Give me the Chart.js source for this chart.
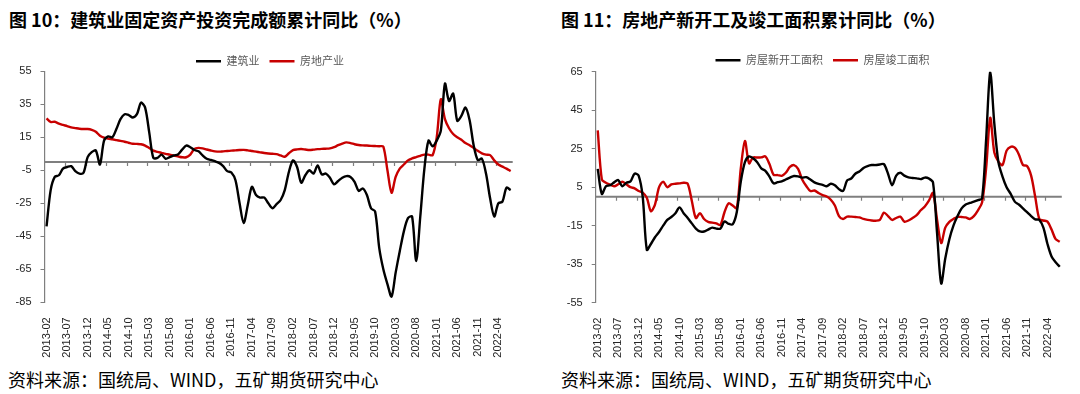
<!DOCTYPE html>
<html>
<head>
<meta charset="utf-8">
<script src="https://cdn.jsdelivr.net/npm/chart.js@4.4.0/dist/chart.umd.min.js"></script>
<style>
  body { margin: 0; background: #fff; width: 1080px; height: 394px; overflow: hidden; position: relative;
         font-family: "Noto Sans CJK SC", sans-serif; }
  .title { position: absolute; top: 9px; font-size: 18px; font-weight: bold; line-height: 20px; color: #000; white-space: nowrap; }
  .source { position: absolute; top: 369px; font-size: 18px; line-height: 20px; color: #000; white-space: nowrap; }
  canvas { position: absolute; }
</style>
</head>
<body>
<div class="title" style="left:9px">图 10：建筑业固定资产投资完成额累计同比（%）</div>
<div class="title" style="left:561px">图 11：房地产新开工及竣工面积累计同比（%）</div>
<canvas id="chartInvest" width="540" height="318" style="left:0;top:40px"></canvas>
<canvas id="chartArea" width="540" height="318" style="left:540px;top:40px"></canvas>
<div class="source" style="left:8px">资料来源：国统局、WIND，五矿期货研究中心</div>
<div class="source" style="left:561px">资料来源：国统局、WIND，五矿期货研究中心</div>
<script>
// months, 2013-02 .. 2022-07
const months = [
  "2013-02","2013-03","2013-04","2013-05","2013-06","2013-07","2013-08","2013-09","2013-10","2013-11","2013-12",
  "2014-01","2014-02","2014-03","2014-04","2014-05","2014-06","2014-07","2014-08","2014-09","2014-10","2014-11","2014-12",
  "2015-01","2015-02","2015-03","2015-04","2015-05","2015-06","2015-07","2015-08","2015-09","2015-10","2015-11","2015-12",
  "2016-01","2016-02","2016-03","2016-04","2016-05","2016-06","2016-07","2016-08","2016-09","2016-10","2016-11","2016-12",
  "2017-01","2017-02","2017-03","2017-04","2017-05","2017-06","2017-07","2017-08","2017-09","2017-10","2017-11","2017-12",
  "2018-01","2018-02","2018-03","2018-04","2018-05","2018-06","2018-07","2018-08","2018-09","2018-10","2018-11","2018-12",
  "2019-01","2019-02","2019-03","2019-04","2019-05","2019-06","2019-07","2019-08","2019-09","2019-10","2019-11","2019-12",
  "2020-01","2020-02","2020-03","2020-04","2020-05","2020-06","2020-07","2020-08","2020-09","2020-10","2020-11","2020-12",
  "2021-01","2021-02","2021-03","2021-04","2021-05","2021-06","2021-07","2021-08","2021-09","2021-10","2021-11","2021-12",
  "2022-01","2022-02","2022-03","2022-04","2022-05","2022-06","2022-07"
];

// 图10
const construction = [
  -39,-17,-9,-8,-4,-3,-2.5,-5.5,-7,-6.5,
  3,6,7,-1.5,13,15.5,15,20,26,29,
  28.5,27,29,36,33,18,2.5,2.5,4.5,2,
  3,4,4.6,7.5,10,9,7.3,6.5,4,2,
  1.3,0.5,-0.5,-2.5,-5.5,-6.3,-11,-25,-37,-26,
  -15,-20,-21.5,-21.5,-25,-28,-25.5,-23,-17,-6,
  1,-3,-12.5,-8,-5,-7,-2,-7.5,-7,-9.5,
  -13.5,-11.5,-9.5,-8.5,-9,-12,-17.5,-16,-20,-28,
  -30,-52,-65,-74,-81.5,-67,-54,-42,-34,-33,
  -60,-33,-4,13,9.5,13,19,47.5,37,41.5,
  25,28,33,25.5,10,1.2,2,-7,-22,-33,
  -25,-24,-15.5,-17
];
const realEstate = [
  26.5,24.3,24.4,23.3,22.5,21.8,21,20.6,20.2,20,
  20,19.5,18.3,16,14.8,14.2,13.8,13.3,12.8,12.3,
  11.7,11.1,11,10.8,10,8.5,6.9,6.2,5.6,5,
  4.5,3.9,3.4,2.9,2.9,4.5,8,8.6,8.3,7.6,
  7,6.5,6.3,6.5,6.7,6.9,7.1,7.3,7.4,7.1,
  6.7,6.3,5.9,5.5,5.2,5,4.8,4,3.2,5.3,
  7.2,7.7,7.9,7.6,7.3,7.5,7.8,8,8.1,8.3,
  9,10.2,11.2,11.9,11.5,10.8,10.3,10.1,10,9.8,
  9.7,9.6,9.3,-5,-18.6,-9,-4,-1.5,1,2.2,
  3,3.8,4.5,4.5,4.2,15,38,26,20.5,17,
  15,13.5,11.5,10.2,8.5,6.8,5.3,4.5,4.2,1,
  -1.5,-2.8,-4,-5.5
];

// 图11
const newStarts = [
  14.5,1.5,5.5,6,7.5,8.7,5.5,7.3,8,12,
  11,0,-27.5,-24.5,-21,-18.3,-15,-12,-10.5,-8.5,
  -5.5,-8.5,-11,-13.8,-16.5,-18,-18,-17,-16,-16.5,
  -16.5,-12.8,-14,-14.3,-8,8,18,21,20,18,
  14.8,13.5,10.5,7,7.6,8,9,10,10.8,10.6,
  10,10.2,9,7.5,6.7,6.2,5.5,6.8,6,4,
  3,8.5,9.5,12,13.2,15,16,16.5,16.5,16.8,
  17,12,6,11,12.5,11,10.1,9.8,9.6,9.2,
  10,9.5,7.5,-19,-45,-32,-22,-15,-10,-6,
  -4,-3.2,-2.5,-1.7,-0.8,30,65,38,18,10.5,
  5,1.5,-2.5,-4,-6,-8,-10,-11.7,-12,-16,
  -24.5,-31,-34,-36.3
];
const completions = [
  34.5,9,7.3,6.3,5.5,6.5,7.8,6.5,5,4.4,
  3,2.2,-0.5,-7.5,-4,5,7.9,5,6.5,6.8,
  7,7.3,6.8,-2,-11,-8.5,-11.5,-13,-13.4,-13.8,
  -14.6,-8,-3.4,-4.5,-6,15,29,17.4,20.5,20.4,
  20.5,21,17,11.5,11.3,10.9,12.5,15.5,16.5,14.5,
  9,5.6,3,3.3,2,0.9,0.2,-1.5,-4.5,-10,
  -11.5,-10.3,-10.3,-10.5,-10.7,-11.5,-12,-12.3,-12.4,-12,
  -8.2,-10,-12,-11,-10.3,-12.9,-12.3,-11,-9.5,-7,
  -5,-2,2,-12,-24,-16,-13,-11.5,-10.4,-10.5,
  -10.7,-11.5,-10,-7,-3,15,41,23,18.3,16.5,
  24,26,25.5,22,16.5,16,11,0,-11.5,-12.3,
  -12.9,-17,-22,-23.3
];

const yTicksInvest = [-85, -65, -45, -25, -5, 15, 35, 55];
const yTicksArea = [-55, -35, -15, 5, 25, 45, 65];

const BLACK = "#000000";
const RED = "#C80000";

Chart.defaults.font.family = '"Liberation Sans", Arial, sans-serif';
Chart.defaults.color = "#262626";

// zero line with tick marks every 5 months (like the Excel category axis)
const zeroLine = {
  id: "zeroLine",
  beforeDatasetsDraw(chart) {
    const { ctx, chartArea, scales } = chart;
    const x = scales.x, y = scales.y;
    const y0 = y.getPixelForValue(0);
    const step = x.getPixelForValue(1) - x.getPixelForValue(0);
    ctx.save();
    ctx.strokeStyle = "#7f7f7f";
    ctx.lineWidth = 2;
    ctx.beginPath();
    ctx.moveTo(chartArea.left, y0);
    ctx.lineTo(chartArea.right, y0);
    ctx.stroke();
    ctx.lineWidth = 1.2;
    ctx.beginPath();
    for (let i = 5; i < months.length; i += 5) {
      const px = Math.round(x.getPixelForValue(i) - step / 2) + 0.5;
      ctx.moveTo(px, y0);
      ctx.lineTo(px, y0 + 4);
    }
    ctx.stroke();
    ctx.restore();
  },
};

// fixed legend height, legend centred on a given x
function legendPlace(h, centerX) {
  return {
    id: "legendPlace",
    beforeInit(chart) {
      const fit = chart.legend.fit;
      chart.legend.fit = function () {
        fit.call(this);
        this.height = h;
      };
    },
    afterLayout(chart) {
      const lg = chart.legend;
      const dx = centerX - (lg.left + lg.right) / 2;
      lg.left += dx;
      lg.right += dx;
    },
  };
}

function makeChart(id, names, series, ticks, yWidth, xHeight, padding, legendH, legendX) {
  return new Chart(document.getElementById(id), {
    type: "line",
    data: {
      labels: months,
      datasets: series.map((s, k) => ({
        label: names[k],
        data: s,
        borderColor: k === 0 ? BLACK : RED,
        backgroundColor: k === 0 ? BLACK : RED,
        borderWidth: 2.4,
        pointRadius: 0,
        tension: 0.3,
        fill: false,
      })),
    },
    options: {
      responsive: false,
      animation: false,
      layout: { padding: padding },
      plugins: {
        legend: {
          position: "top",
          labels: {
            usePointStyle: true,
            pointStyle: "line",
            pointStyleWidth: 25,
            padding: 10,
            color: "#595959",
            font: { size: 11, family: '"Noto Sans CJK SC", sans-serif' },
          },
        },
        tooltip: { enabled: false },
      },
      scales: {
        x: {
          offset: true,
          grid: { display: false },
          border: { display: false },
          ticks: {
            autoSkip: false,
            minRotation: 90,
            maxRotation: 90,
            padding: 7,
            font: { size: 11 },
            callback: (v, i) => (i % 5 === 0 ? months[i] : ""),
          },
          afterFit: (s) => { s.height = xHeight; },
        },
        y: {
          min: ticks[0],
          max: ticks[ticks.length - 1],
          afterBuildTicks: (s) => { s.ticks = ticks.map((v) => ({ value: v })); },
          grid: { drawOnChartArea: false, tickLength: 4, color: "#7f7f7f" },
          border: { display: true, color: "#7f7f7f", width: 1.2 },
          ticks: { padding: 9, font: { size: 11 } },
          afterFit: (s) => { s.width = yWidth; },
        },
      },
    },
    plugins: [zeroLine, legendPlace(legendH, legendX)],
  });
}

makeChart("chartInvest", ["建筑业", "房地产业"], [construction, realEstate], yTicksInvest,
  44.5, 55.7, { left: 0, right: 27.3, top: 5.8, bottom: 0 }, 25.5, 270);

makeChart("chartArea", ["房屋新开工面积", "房屋竣工面积"], [newStarts, completions], yTicksArea,
  55.7, 55.3, { left: 0, right: 13.3, top: 4.8, bottom: 0 }, 26.9, 282.5);
</script>
</body>
</html>
